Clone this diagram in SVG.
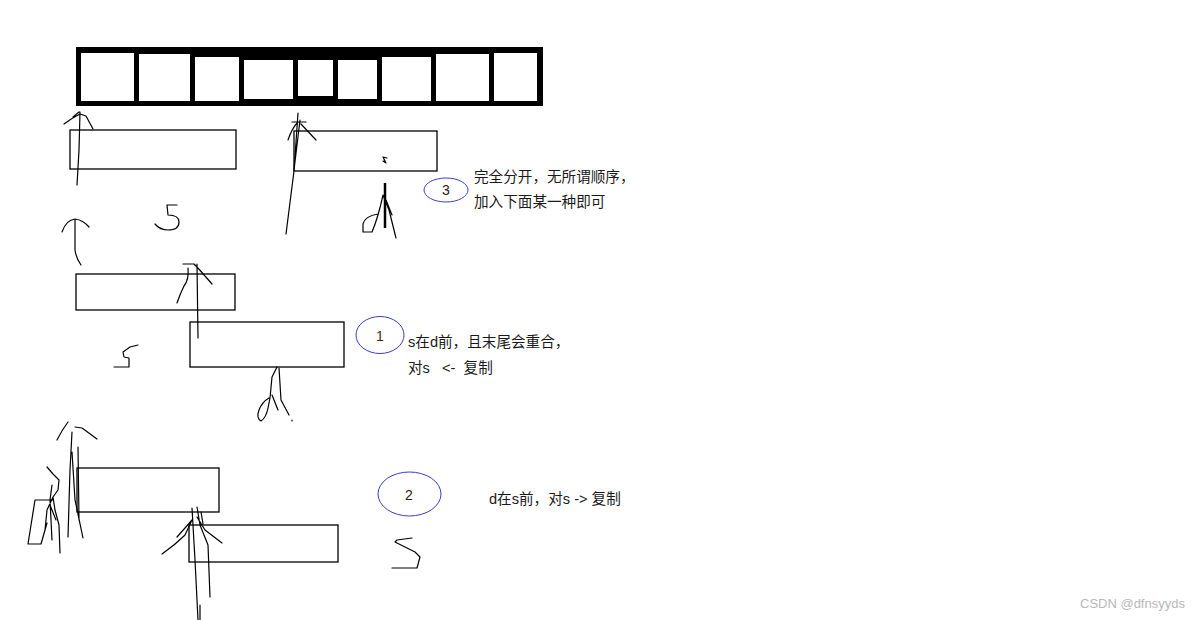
<svg xmlns="http://www.w3.org/2000/svg" width="1200" height="620" viewBox="0 0 1200 620">
<style>
.bx{fill:none;stroke:#000;stroke-width:1.3}
.pen{fill:none;stroke:#000;stroke-width:1.2;stroke-linecap:round;stroke-linejoin:round}
.cell{fill:#fff}
.ring{fill:none;stroke:#3c3ccc;stroke-width:1}
.t{font-family:"Liberation Sans","Noto Sans CJK SC",sans-serif;font-size:14.6px;fill:#1a1a1a;white-space:pre}
.num{font-family:"Liberation Sans",sans-serif;font-size:14px;fill:#222;text-anchor:middle}
.wm{font-family:"Liberation Sans",sans-serif;font-size:13px;fill:#b8b8b8}
</style>
<rect width="1200" height="620" fill="#fff"/>
<g id="array">
<rect x="76" y="47" width="467" height="59" fill="#000"/>
<rect class="cell" x="81" y="53" width="53" height="48"/>
<rect class="cell" x="139" y="54" width="51" height="47"/>
<rect class="cell" x="195" y="57" width="44" height="44"/>
<rect class="cell" x="244" y="60" width="49" height="39"/>
<rect class="cell" x="298" y="60" width="35" height="36"/>
<rect class="cell" x="338" y="60" width="39" height="39"/>
<rect class="cell" x="382" y="57" width="49" height="44"/>
<rect class="cell" x="436" y="54" width="53" height="47"/>
<rect class="cell" x="494" y="53" width="43" height="48"/>
</g>
<g id="case3">
<rect class="bx" x="70" y="130" width="166" height="39"/>
<rect class="bx" x="294" y="131" width="143" height="40"/>
<path class="pen" d="M80,112 L79,150 L77,185 M64,124 Q72,118 80,114 L86,116 L93,129 M73,117 L79,112"/>
<path class="pen" d="M62,232 Q66,220 75,219 Q83,220 89,227 M75,219 L75,250 Q76,258 81,265"/>
<path class="pen" d="M177,205 L167,205 L168,215 Q179,215 179,222 Q179,230 168,230 Q160,230 155,224"/>
<path class="pen" d="M298,113 L294,171 L286,234 M300,120 L294,170 M288,140 Q292,128 298,122 M301,124 L316,140 M292,122 L306,122"/>
<path class="pen" d="M383,157 L386,163 L383,161 M383,157 L387,158"/>
<path d="M385,183 L385,228" stroke="#000" stroke-width="2.5" fill="none"/>
<path class="pen" d="M378,214 Q365,216 363,224 L363,232 L372,232 Q378,218 383,195 M383,195 L389,210 L396,238 M386,200 L392,215"/>
<ellipse class="ring" cx="446" cy="190" rx="22" ry="12"/>
<text class="num" x="446" y="195">3</text>
<text class="t" x="474" y="182">完全分开，无所谓顺序，</text>
<text class="t" x="474" y="207">加入下面某一种即可</text>
</g>
<g id="case1">
<rect class="bx" x="76" y="274" width="159" height="36"/>
<rect class="bx" x="190" y="322" width="154" height="45"/>
<path class="pen" d="M197,264 L198,338 M183,264 L194,264 Q200,270 205,276 L212,284 M188,268 Q189,280 184,286 Q180,294 177,303"/>
<path class="pen" d="M138,345 L130,347 L123,352 L124,357 L129,358 L129,367 L114,367"/>
<path class="pen" d="M277,367 L272,377 L270,398 M269,398 Q262,402 259,410 Q256,418 261,421 Q266,418 268,408 L270,398 M279,368 L281,400 L289,415 M292,420 L292,421 M272,395 L278,410"/>
<ellipse class="ring" cx="380" cy="335" rx="24" ry="18.5"/>
<text class="num" x="380" y="341" fill="#5a3000" style="fill:#4a2a00">1</text>
<text class="t" x="408" y="347">s在d前，且末尾会重合，</text>
<text class="t" x="408" y="373" xml:space="preserve">对s   &lt;-  复制</text>
</g>
<g id="case2">
<rect class="bx" x="77" y="468" width="142" height="44"/>
<rect class="bx" x="189" y="525" width="149" height="37"/>
<path class="pen" d="M72,432 L70,470 L68,537 M78,447 L79,520 M72,452 L75,500 L83,538 M57,440 Q62,430 68,422 M75,427 L82,428 L97,439"/>
<path class="pen" d="M47,467 L53,474 L59,480 L58,490 L53,497 L55,510 L59,525 L60,553 M53,497 L47,510 L45,530 M53,500 L35,500 L28,544 L41,544 L47,523 M50,505 L56,520 M52,485 L50,500 L52,540"/>
<path class="pen" d="M192,508 L195,560 L198,620 M197,507 L200,525 L208,545 L210,597 M162,554 Q175,545 185,535 L192,520 M177,537 L185,528 L192,520 M197,517 L205,530 L222,543 M201,512 L203,524 M200,605 L200,620"/>
<path class="pen" d="M412,538 L397,540 L395,542 L415,552 L420,557 L417,568 L392,568"/>
<ellipse class="ring" cx="409.5" cy="494" rx="31.5" ry="22"/>
<text class="num" x="409" y="500">2</text>
<text class="t" x="489" y="504">d在s前，对s -&gt; 复制</text>
</g>
<text class="wm" x="1080" y="608">CSDN @dfnsyyds</text>
</svg>
